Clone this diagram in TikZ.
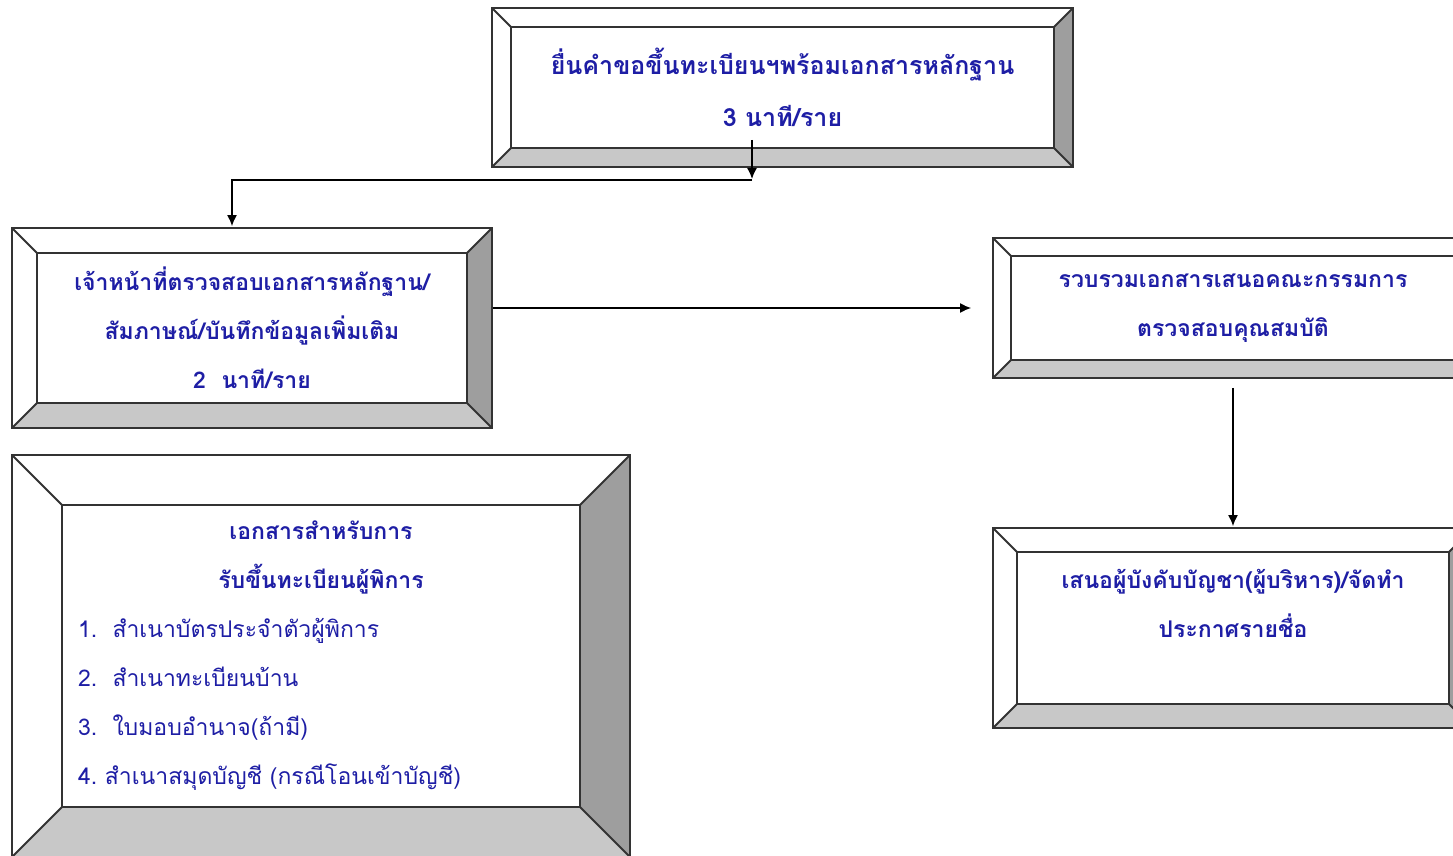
\documentclass[tikz,border=0pt]{standalone}
\usepackage{fontspec}
\newfontfamily\thaifont[Script=Thai]{Loma}
\usetikzlibrary{arrows,arrows.meta,positioning}
\definecolor{thaiblue}{RGB}{30,30,165}
\definecolor{bevelright}{RGB}{158,158,158}
\definecolor{bevelbottom}{RGB}{200,200,200}

\tikzset{
  bevel/.style={draw=black!80, line width=0.9pt, fill=white, inner sep=0pt,
    path picture={
      \coordinate (bvsw) at (path picture bounding box.south west);
      \coordinate (bvse) at (path picture bounding box.south east);
      \coordinate (bvne) at (path picture bounding box.north east);
      \coordinate (bvnw) at (path picture bounding box.north west);
      \coordinate (insw) at ([shift={(#1,#1)}]bvsw);
      \coordinate (inse) at ([shift={(-#1,#1)}]bvse);
      \coordinate (inne) at ([shift={(-#1,-#1)}]bvne);
      \coordinate (innw) at ([shift={(#1,-#1)}]bvnw);
      \fill[bevelbottom] (bvsw) -- (bvse) -- (inse) -- (insw) -- cycle;
      \fill[bevelright] (bvse) -- (bvne) -- (inne) -- (inse) -- cycle;
      \draw[black!80, line width=0.9pt] (insw) rectangle (inne)
        (bvsw) -- (insw) (bvse) -- (inse) (bvne) -- (inne) (bvnw) -- (innw);
    }},
  thaitext/.style={text=thaiblue, align=center,
    font=\thaifont\bfseries\fontsize{11.5}{24.5}\selectfont},
}

\begin{document}
\begin{tikzpicture}[x=0.5pt,y=-0.5pt,->,>={Latex[length=5.5pt,width=5pt]},line width=0.75pt,shorten >=0.5pt]
    \useasboundingbox (0,0) rectangle (1453,856);
    \clip (0,0) rectangle (1453,856);
    % boxes
    \node[bevel=9.5pt,thaitext,font=\thaifont\bfseries\fontsize{12.5}{26}\selectfont,
          minimum width=290.5pt,minimum height=79.5pt] (1) at (782.5,87.5)
          {ยื่นคำขอขึ้นทะเบียนฯพร้อมเอกสารหลักฐาน\\3 นาที/ราย};
    \node[bevel=12.5pt,thaitext,minimum width=240pt,minimum height=100pt] (2) at (252,328)
          {เจ้าหน้าที่ตรวจสอบเอกสารหลักฐาน/\\สัมภาษณ์/บันทึกข้อมูลเพิ่มเติม\\2~~นาที/ราย};
    \node[bevel=9pt,thaitext,minimum width=240pt,minimum height=70pt] (3) at (1233,308)
          {รวบรวมเอกสารเสนอคณะกรรมการ\\ตรวจสอบคุณสมบัติ};
    \node[bevel=12pt,thaitext,minimum width=240pt,minimum height=100pt] (4) at (1233,628)
          {เสนอผู้บังคับบัญชา(ผู้บริหาร)/จัดทำ\\ประกาศรายชื่อ\\\mbox{}};
    \node[bevel=25pt,thaitext,align=left,text width=243pt,
          minimum width=309pt,minimum height=201pt] (5) at (321,656)
          {\makebox[243pt]{เอกสารสำหรับการ}\\
           \makebox[243pt]{รับขึ้นทะเบียนผู้พิการ}\\
           {\mdseries 1.~~สำเนาบัตรประจำตัวผู้พิการ}\\
           {\mdseries 2.~~สำเนาทะเบียนบ้าน}\\
           {\mdseries 3.~~ใบมอบอำนาจ(ถ้ามี)}\\
           {\mdseries 4.~สำเนาสมุดบัญชี (กรณีโอนเข้าบัญชี)}};
    % connectors
    \coordinate (1s) at (752,140);
    \coordinate (k1) at (752,180);
    \coordinate (k2) at (232,180);
    \draw (1s) -- (k1);
    \draw (k1) -- (k2) -- (2.north -| k2);
    \draw[shorten >=10.5pt] (2.east |- 3) -- (3.west);
    \draw[shorten <=4.5pt] (3.south) -- (4.north);
\end{tikzpicture}
\end{document}
